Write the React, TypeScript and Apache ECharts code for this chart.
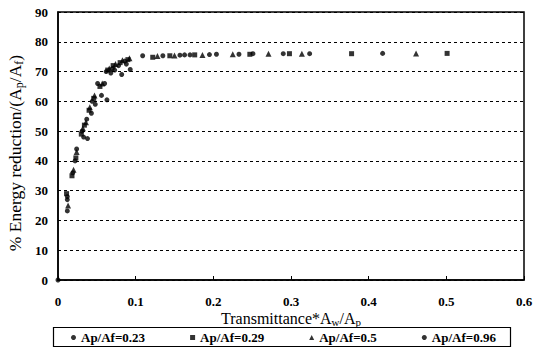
import React, { useEffect, useRef } from "react";
import * as echarts from "echarts";

const xTicks = [0, 0.1, 0.2, 0.3, 0.4, 0.5, 0.6];
const yTicks = [0, 10, 20, 30, 40, 50, 60, 70, 80, 90];

const seriesNames = ["Ap/Af=0.23", "Ap/Af=0.29", "Ap/Af=0.5", "Ap/Af=0.96"];

const dataA: number[][] = [
  [0, 0], [0.012, 27], [0.012, 28], [0.019, 36], [0.022, 40], [0.031, 50], [0.037, 54],
  [0.044, 60], [0.051, 66], [0.062, 70], [0.070, 71], [0.078, 72], [0.086, 73.5],
  [0.109, 75.3], [0.135, 75.3], [0.163, 75.6], [0.204, 75.8], [0.251, 76], [0.324, 76], [0.418, 76.1],
];
const dataB: number[][] = [
  [0.011, 29], [0.018, 35], [0.023, 41], [0.030, 49], [0.034, 52], [0.040, 57], [0.046, 61],
  [0.054, 65], [0.064, 70.5], [0.071, 72], [0.080, 73], [0.090, 74], [0.122, 74.8],
  [0.144, 75.3], [0.176, 75.6], [0.247, 75.8], [0.298, 76], [0.378, 76], [0.501, 76.1],
];
const dataC: number[][] = [
  [0.013, 25], [0.020, 37], [0.024, 43], [0.032, 51], [0.036, 53], [0.041, 58], [0.047, 62],
  [0.057, 66], [0.066, 71], [0.074, 72.5], [0.083, 73.8], [0.092, 74.5], [0.128, 75.2],
  [0.150, 75.4], [0.186, 75.6], [0.225, 75.8], [0.271, 76], [0.314, 76], [0.461, 76.1],
];
const dataD: number[][] = [
  [0.012, 23.2], [0.024, 44], [0.033, 48], [0.038, 47.5], [0.043, 56], [0.048, 59], [0.056, 62],
  [0.060, 66], [0.063, 60.5], [0.068, 69.5], [0.073, 70.5], [0.082, 69], [0.093, 70.7],
  [0.088, 72.5], [0.157, 75.5], [0.170, 75.6], [0.195, 75.7], [0.233, 75.8], [0.290, 76],
];

const xTitle = "Transmittance*A{sub|w}/A{sub|p}";
const yTitle = "% Energy reduction/(A{sub|p}/A{sub|f})";

const FONT = "'Liberation Serif', 'DejaVu Serif', serif";

export default function App() {
  const ref = useRef<HTMLDivElement>(null);
  useEffect(() => {
    if (!ref.current) return;
    const chart = echarts.init(ref.current, null, { renderer: "svg" });
    const symbols = ["circle", "rect", "triangle", "circle"];
    const sizes = [5, 5, 6, 5];
    const datasets = [dataA, dataB, dataC, dataD];
    const subRich = (fs: number) => ({
      sub: { fontFamily: FONT, fontSize: fs, verticalAlign: "bottom", padding: [7, 0, 0, 0], fill: "#000", color: "#000" },
    });
    chart.setOption({
      animation: false,
      backgroundColor: "#fff",
      grid: { left: 58, right: 19, top: 12, bottom: 82, show: true, borderColor: "#000", borderWidth: 1.5 },
      xAxis: {
        type: "value",
        min: xTicks[0],
        max: xTicks[xTicks.length - 1],
        interval: 0.1,
        axisLine: { lineStyle: { color: "#000", width: 1.5 } },
        axisTick: { inside: true, length: 4, lineStyle: { color: "#000" } },
        axisLabel: { fontFamily: FONT, fontSize: 13, fontWeight: "bold", color: "#000", margin: 15 },
        splitLine: { show: false },
      },
      yAxis: {
        type: "value",
        min: yTicks[0],
        max: yTicks[yTicks.length - 1],
        interval: 10,
        axisLine: { show: true, lineStyle: { color: "#000", width: 1.5 } },
        axisTick: { show: true, inside: true, length: 3, lineStyle: { color: "#000" } },
        axisLabel: { fontFamily: FONT, fontSize: 13, fontWeight: "bold", color: "#000", margin: 10 },
        splitLine: { show: true, lineStyle: { color: "#000", type: [3, 3], width: 1 } },
      },
      graphic: [
        {
          type: "text", x: 291, y: 318, silent: true,
          style: { text: xTitle, fontFamily: FONT, fontSize: 16, fill: "#000", align: "center", verticalAlign: "middle", rich: subRich(11) },
        },
        {
          type: "text", x: 15, y: 153, rotation: Math.PI / 2, silent: true,
          style: { text: yTitle, fontFamily: FONT, fontSize: 17.5, fill: "#000", align: "center", verticalAlign: "middle", rich: subRich(12) },
        },
        { type: "rect", shape: { x: 53.5, y: 327.5, width: 457, height: 19 }, style: { fill: "none", stroke: "#000", lineWidth: 1.2 }, silent: true },
      ],
      legend: {
        left: 71,
        top: 331,
        orient: "horizontal",
        padding: 0,
        itemGap: 45,
        itemWidth: 5,
        itemHeight: 5,
        textStyle: { fontFamily: FONT, fontSize: 13, fontWeight: "bold", color: "#000" },
        data: seriesNames.map((n, i) => ({ name: n, icon: symbols[i] })),
      },
      series: datasets.map((d, i) => ({
        type: "scatter",
        name: seriesNames[i],
        data: d,
        symbol: symbols[i],
        symbolSize: sizes[i],
        itemStyle: { color: "#000" },
      })),
    });
    return () => chart.dispose();
  }, []);
  return <div ref={ref} style={{ width: 543, height: 362, position: "absolute", left: 0, top: 0 }} />;
}
